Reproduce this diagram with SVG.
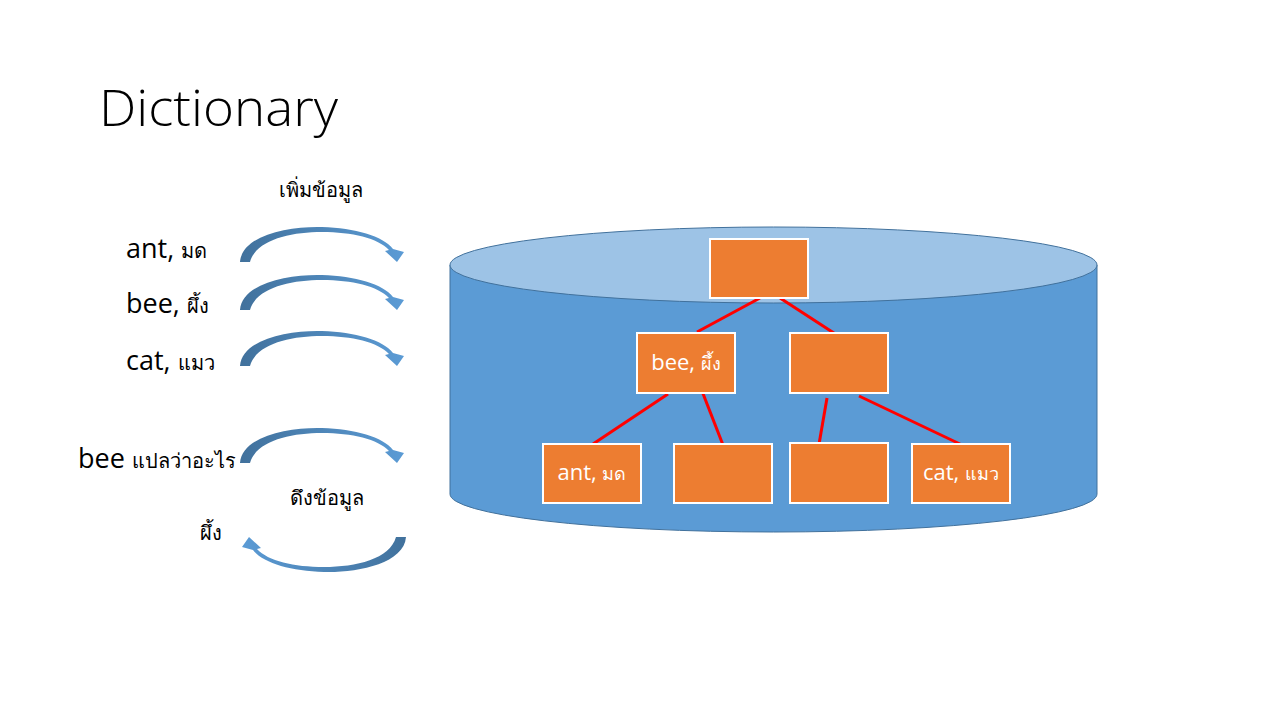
<svg xmlns="http://www.w3.org/2000/svg" width="1280" height="720" viewBox="0 0 1280 720">
<defs>
<linearGradient id="ag" x1="0" y1="0" x2="1" y2="0">
<stop offset="0" stop-color="#41719C"/>
<stop offset="1" stop-color="#5B9BD5"/>
</linearGradient>
<path id="carrow" d="M240,262 C242,235 290,226 322,227 C355,228 383,236 393,249 L404,252 L397,262 L385,251 L389,250 C378,238 352,232 322,232 C290,232 256,240 250,262 Z" fill="url(#ag)"/>
</defs>
<style>
text{font-family:"Open Sans","Noto Sans","DejaVu Sans",sans-serif;}
.lbl{font-size:27px;fill:#000;}
.th{font-size:20px;}
.cap{font-size:20px;fill:#000;}
.box{fill:#ED7D31;stroke:#FFFFFF;stroke-width:2;}
.bt{font-size:22px;fill:#FFFFFF;text-anchor:middle;}
.edge{stroke:#FF0000;stroke-width:3;fill:none;}
</style>
<rect width="1280" height="720" fill="#FFFFFF"/>
<text x="99" y="126" font-size="50" font-weight="300" textLength="239" lengthAdjust="spacingAndGlyphs" fill="#000">Dictionary</text>

<g id="labels-left">
<text class="cap" x="279" y="197">เพิ่มข้อมูล</text>
<text class="lbl" x="126" y="258">ant, <tspan class="th">มด</tspan></text>
<text class="lbl" x="126" y="313">bee, <tspan class="th">ผึ้ง</tspan></text>
<text class="lbl" x="126" y="370">cat, <tspan class="th">แมว</tspan></text>
<text class="lbl" x="78" y="468">bee <tspan class="th">แปลว่าอะไร</tspan></text>
<text class="cap" x="290" y="505">ดึงข้อมูล</text>
<text class="cap" x="200" y="540">ผึ้ง</text>
</g>

<g id="arrows">
<use href="#carrow"/>
<use href="#carrow" transform="translate(0,48)"/>
<use href="#carrow" transform="translate(0,104)"/>
<use href="#carrow" transform="translate(0,201)"/>
<use href="#carrow" transform="rotate(180,323,399.5)"/>
</g>

<g id="cylinder">
<path d="M450,265 L450,494 A323.5,38 0 0 0 1097,494 L1097,265 Z" fill="#5B9BD5" stroke="#41719C" stroke-width="1"/>
<ellipse cx="773.5" cy="265" rx="323.5" ry="38" fill="#9DC3E6" stroke="#41719C" stroke-width="1"/>
</g>

<g id="connectors">
<line class="edge" x1="760" y1="298" x2="697" y2="332"/>
<line class="edge" x1="780" y1="298" x2="840" y2="337"/>
<line class="edge" x1="668" y1="394" x2="593" y2="444"/>
<line class="edge" x1="702" y1="391" x2="723" y2="445"/>
<line class="edge" x1="827" y1="398" x2="818" y2="450"/>
<line class="edge" x1="859" y1="396" x2="962" y2="445"/>
</g>

<g id="root"><rect class="box" x="710" y="239" width="98" height="59"/></g>
<g id="n-bee"><rect class="box" x="637" y="333" width="98" height="60"/><text class="bt" x="686" y="370">bee, <tspan font-size="18">ผึ้ง</tspan></text></g>
<g id="n-right"><rect class="box" x="790" y="333" width="98" height="60"/></g>
<g id="n-ant"><rect class="box" x="543" y="444" width="98" height="59"/><text class="bt" x="592" y="480">ant, <tspan font-size="18">มด</tspan></text></g>
<g id="n-empty1"><rect class="box" x="674" y="444" width="98" height="59"/></g>
<g id="n-empty2"><rect class="box" x="790" y="443" width="98" height="60"/></g>
<g id="n-cat"><rect class="box" x="912" y="444" width="98" height="59"/><text class="bt" x="961" y="480">cat, <tspan font-size="18">แมว</tspan></text></g>
</svg>
